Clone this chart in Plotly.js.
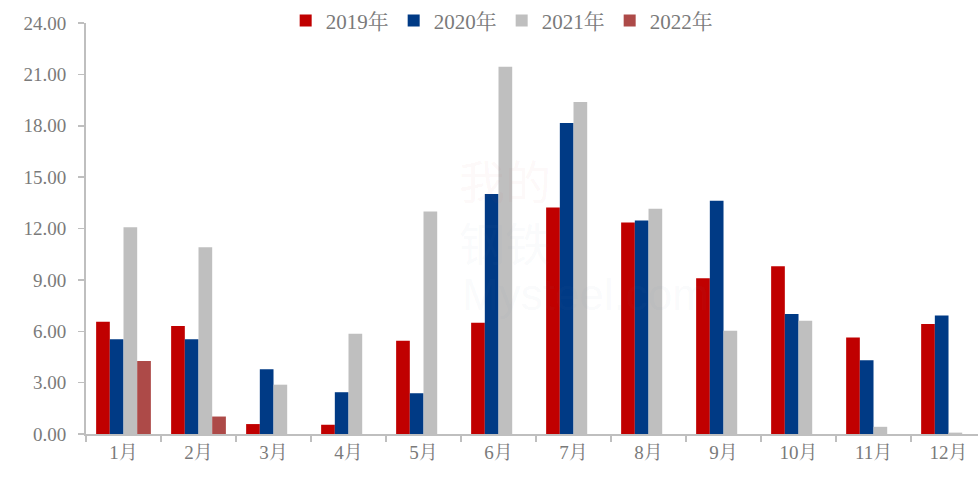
<!DOCTYPE html>
<html>
<head>
<meta charset="utf-8">
<script src="https://cdn.plot.ly/plotly-3.0.1.min.js"></script>
<style>html,body{margin:0;padding:0;background:#fff;}#chart{width:978px;height:480px;}</style>
</head>
<body>
<div id="chart"></div>
<script>
const months = ["1月","2月","3月","4月","5月","6月","7月","8月","9月","10月","11月","12月"];
const seriesNames = ["2019年","2020年","2021年","2022年"];
const v2019 = [6.55, 6.30, 0.58, 0.54, 5.45, 6.49, 13.23, 12.35, 9.10, 9.80, 5.64, 6.43];
const v2020 = [5.54, 5.54, 3.78, 2.44, 2.38, 14.01, 18.16, 12.46, 13.62, 7.01, 4.30, 6.92];
const v2021 = [12.07, 10.90, 2.88, 5.86, 12.99, 21.45, 19.38, 13.16, 6.03, 6.61, 0.42, 0.08];
const v2022 = [4.26, 1.02];
const yTicks = [0, 3, 6, 9, 12, 15, 18, 21, 24];

const colors = ["#C00000", "#003A85", "#BFBFBF", "#AD4A48"];
const allVals = [v2019, v2020, v2021, v2022];

const traces = allVals.map((vals, i) => ({
  type: "bar",
  name: seriesNames[i],
  x: months.slice(0, vals.length),
  y: vals,
  marker: {color: colors[i], line: {width: 0}},
  hoverinfo: "x+y+name"
}));

const fam = "'Liberation Serif', 'Times New Roman', 'Noto Serif CJK SC', 'Noto Sans CJK SC', serif";
const font = {family: fam, size: 19, color: "#7a7a7a"};
const legendFont = {family: fam, size: 21, color: "#7a7a7a"};

const layout = {
  width: 978,
  height: 480,
  margin: {l: 86, r: 0, t: 21, b: 46},
  paper_bgcolor: "#ffffff",
  plot_bgcolor: "#ffffff",
  barmode: "group",
  bargap: 0.27,
  bargroupgap: 0,
  font: font,
  showlegend: true,
  legend: {
    orientation: "h",
    x: 0.466,
    xanchor: "center",
    y: 1.005,
    yanchor: "middle",
    font: legendFont,
    bgcolor: "rgba(255,255,255,0)",
    itemwidth: 30,
    traceorder: "normal"
  },
  xaxis: {
    type: "category",
    categoryorder: "array",
    categoryarray: months,
    range: [-0.5, 11.393],
    showline: true,
    linecolor: "#BFBFBF",
    linewidth: 2,
    ticks: "outside",
    tickson: "boundaries",
    ticklen: 6,
    tickcolor: "#BFBFBF",
    tickwidth: 1.5,
    showgrid: false,
    zeroline: false,
    tickfont: font,
    fixedrange: true
  },
  yaxis: {
    range: [0, 24],
    tickvals: yTicks,
    ticktext: yTicks.map(v => v.toFixed(2)),
    showline: true,
    linecolor: "#BFBFBF",
    linewidth: 2,
    ticks: "outside",
    ticklen: 6,
    tickcolor: "#BFBFBF",
    tickwidth: 1.5,
    showgrid: false,
    zeroline: false,
    tickfont: font,
    ticklabelstandoff: 8,
    fixedrange: true
  },
  annotations: [
    {text: "我的", xref: "paper", yref: "paper", x: 0.47, y: 0.62, showarrow: false,
     font: {family: "'Noto Sans CJK SC', sans-serif", size: 46, color: "rgba(220,80,80,0.05)"}},
    {text: "钢铁", xref: "paper", yref: "paper", x: 0.47, y: 0.47, showarrow: false,
     font: {family: "'Noto Sans CJK SC', sans-serif", size: 46, color: "rgba(120,140,180,0.05)"}},
    {text: "Mysteel.com", xref: "paper", yref: "paper", x: 0.56, y: 0.34, showarrow: false,
     font: {family: "'Liberation Sans', sans-serif", size: 44, color: "rgba(120,140,180,0.05)"}}
  ]
};

Plotly.newPlot("chart", traces, layout, {displayModeBar: false, staticPlot: true});
</script>
</body>
</html>
